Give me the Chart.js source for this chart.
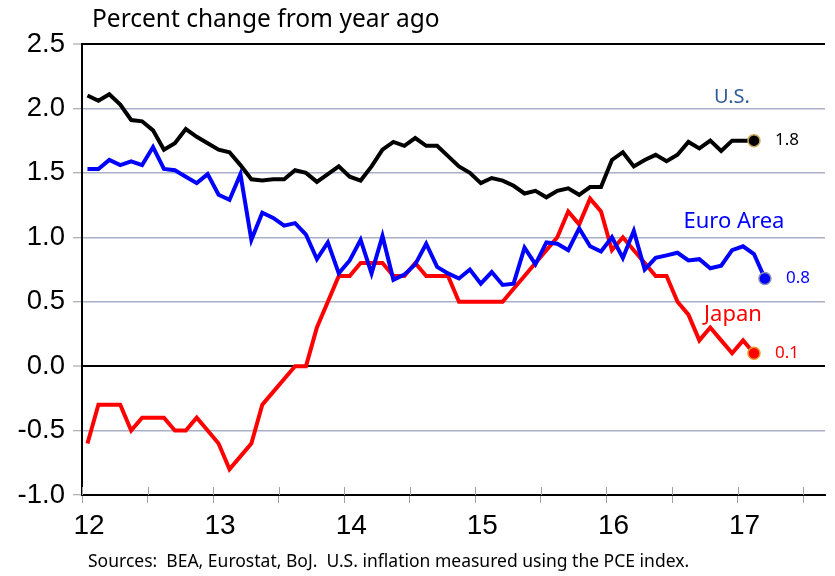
<!DOCTYPE html>
<html>
<head>
<meta charset="utf-8">
<script src="https://cdn.jsdelivr.net/npm/chart.js@4/dist/chart.umd.min.js"></script>
<style>
  html, body { margin: 0; padding: 0; background: #fff; }
  #wrap { width: 835px; height: 576px; position: relative; }
</style>
</head>
<body>
<div id="wrap"><canvas id="c" width="835" height="576"></canvas></div>
<script>
// ---- Data ----
const months = [
  '2012-01','2012-02','2012-03','2012-04','2012-05','2012-06','2012-07','2012-08','2012-09','2012-10','2012-11','2012-12',
  '2013-01','2013-02','2013-03','2013-04','2013-05','2013-06','2013-07','2013-08','2013-09','2013-10','2013-11','2013-12',
  '2014-01','2014-02','2014-03','2014-04','2014-05','2014-06','2014-07','2014-08','2014-09','2014-10','2014-11','2014-12',
  '2015-01','2015-02','2015-03','2015-04','2015-05','2015-06','2015-07','2015-08','2015-09','2015-10','2015-11','2015-12',
  '2016-01','2016-02','2016-03','2016-04','2016-05','2016-06','2016-07','2016-08','2016-09','2016-10','2016-11','2016-12',
  '2017-01','2017-02','2017-03'
];
const usValues = [
  2.10,2.06,2.11,2.03,1.91,1.90,1.83,1.68,1.73,1.84,1.78,1.73,
  1.68,1.66,1.56,1.45,1.44,1.45,1.45,1.52,1.50,1.43,1.49,1.55,
  1.47,1.44,1.55,1.68,1.74,1.71,1.77,1.71,1.71,1.63,1.55,1.50,
  1.42,1.46,1.44,1.40,1.34,1.36,1.31,1.36,1.38,1.33,1.39,1.39,
  1.60,1.66,1.55,1.60,1.64,1.59,1.64,1.74,1.69,1.75,1.67,1.75,
  1.75,1.75
];
const euroValues = [
  1.53,1.53,1.60,1.56,1.59,1.56,1.70,1.53,1.52,1.47,1.42,1.49,
  1.33,1.29,1.49,0.98,1.19,1.15,1.09,1.11,1.02,0.83,0.96,0.72,
  0.82,0.98,0.72,1.01,0.67,0.71,0.79,0.95,0.77,0.72,0.68,0.75,
  0.64,0.73,0.63,0.64,0.92,0.79,0.96,0.95,0.90,1.07,0.93,0.89,
  1.00,0.84,1.05,0.75,0.84,0.86,0.88,0.82,0.83,0.76,0.78,0.90,
  0.93,0.87,0.68
];
const japanValues = [
  -0.6,-0.3,-0.3,-0.3,-0.5,-0.4,-0.4,-0.4,-0.5,-0.5,-0.4,-0.5,
  -0.6,-0.8,-0.7,-0.6,-0.3,-0.2,-0.1,0.0,0.0,0.3,0.5,0.7,
  0.7,0.8,0.8,0.8,0.7,0.7,0.8,0.7,0.7,0.7,0.5,0.5,
  0.5,0.5,0.5,0.6,0.7,0.8,0.9,1.0,1.2,1.1,1.3,1.2,
  0.9,1.0,0.9,0.8,0.7,0.7,0.5,0.4,0.2,0.3,0.2,0.1,
  0.2,0.1
];
const seriesNames = ['U.S.', 'Euro Area', 'Japan'];
const endLabels = ['1.8', '0.8', '0.1'];
const yTicks = [-1.0, -0.5, 0.0, 0.5, 1.0, 1.5, 2.0, 2.5];
const xYearTicks = [12, 13, 14, 15, 16, 17];
const titleText = 'Percent change from year ago';
const sourceText = 'Sources:  BEA, Eurostat, BoJ.  U.S. inflation measured using the PCE index.';

// month string -> decimal year (mid-month), two-digit year like the axis
function monthPos(m) {
  const yy = parseInt(m.slice(2, 4), 10);
  const mm = parseInt(m.slice(5, 7), 10);
  return yy + (mm - 0.5) / 12;
}
function toPoints(vals) {
  return vals.map((v, i) => ({ x: monthPos(months[i]), y: v }));
}

const colors = ['#000000', '#0000ff', '#ff0000'];
const dotBorders = ['#c9a55e', '#8a8fb0', '#e59a2a'];
const nameColors = ['#2f5b98', '#0000ff', '#ff0000'];
const seriesData = [usValues, euroValues, japanValues];

const datasets = seriesData.map((vals, k) => ({
  label: seriesNames[k],
  data: toPoints(vals),
  borderColor: colors[k],
  backgroundColor: colors[k],
  borderWidth: 4,
  tension: 0,
  pointRadius: ctx => (ctx.dataIndex === vals.length - 1 ? 6 : 0),
  pointHoverRadius: 0,
  pointBackgroundColor: colors[k],
  pointBorderColor: dotBorders[k],
  pointBorderWidth: 1.5,
  clip: false
}));

const decor = {
  id: 'decor',
  afterDraw(chart) {
    const ctx = chart.ctx;
    const xs = chart.scales.x;
    const area = chart.chartArea;
    ctx.save();
    // inner part of x tick marks
    ctx.strokeStyle = '#a0a0a0';
    ctx.lineWidth = 1;
    xs.ticks.forEach(t => {
      const px = Math.round(xs.getPixelForValue(t.value)) + 0.5;
      ctx.beginPath();
      ctx.moveTo(px, area.bottom - 8);
      ctx.lineTo(px, area.bottom);
      ctx.stroke();
    });
    // title
    ctx.fillStyle = '#000';
    ctx.font = '24.5px "Noto Sans", "Open Sans", sans-serif';
    ctx.textAlign = 'left';
    ctx.textBaseline = 'middle';
    ctx.fillText(titleText, 92, 20);
    // sources
    ctx.font = '17.5px "Noto Sans", "Open Sans", sans-serif';
    ctx.fillText(sourceText, 88, 562);
    // series annotations, anchored at each series' last point
    const nameOffsets = [[-22, -43], [-31, -57], [-21, -39]];
    const nameFonts = ['20px', '22px', '22px'];
    chart.data.datasets.forEach((ds, k) => {
      const meta = chart.getDatasetMeta(k);
      const p = meta.data[meta.data.length - 1];
      ctx.textAlign = 'left';
      ctx.fillStyle = k === 0 ? '#000' : colors[k];
      ctx.font = '17px "Noto Sans", "Open Sans", sans-serif';
      ctx.fillText(endLabels[k], p.x + 21, p.y);
      ctx.textAlign = 'center';
      ctx.fillStyle = nameColors[k];
      ctx.font = nameFonts[k] + ' "Noto Sans", "Open Sans", sans-serif';
      ctx.fillText(seriesNames[k], p.x + nameOffsets[k][0], p.y + nameOffsets[k][1]);
    });
    ctx.restore();
  }
};

new Chart(document.getElementById('c'), {
  type: 'line',
  data: { datasets },
  plugins: [decor],
  options: {
    responsive: false,
    animation: false,
    events: [],
    layout: { padding: { top: 44, right: 10, left: 0, bottom: 0 } },
    plugins: { legend: { display: false }, tooltip: { enabled: false }, title: { display: false } },
    scales: {
      x: {
        type: 'linear',
        min: 12,
        max: 12 + 68 / 12,
        afterBuildTicks(scale) {
          const list = [];
          xYearTicks.forEach(y => { list.push({ value: y }); list.push({ value: y + 0.5 }); });
          scale.ticks = list;
        },
        afterFit(scale) { scale.height = 81; },
        border: { display: true, color: '#000', width: 2 },
        grid: { drawOnChartArea: false, drawTicks: true, tickLength: 8, tickColor: '#a0a0a0', tickWidth: 1 },
        ticks: {
          autoSkip: false,
          maxRotation: 0,
          padding: 6,
          labelOffset: 7,
          color: '#000',
          font: { family: '"Liberation Sans", Arial, sans-serif', size: 28 },
          callback: v => (xYearTicks.includes(v) ? String(v) : '')
        }
      },
      y: {
        min: -1.0,
        max: 2.5,
        afterBuildTicks(scale) { scale.ticks = yTicks.map(v => ({ value: v })); },
        afterFit(scale) { scale.width = 82; },
        border: { display: true, color: '#000', width: 2 },
        grid: {
          color: ctx => (ctx.tick && (ctx.tick.value === 0 || ctx.tick.value === 2.5) ? '#000' : '#a9b0c8'),
          lineWidth: ctx => (ctx.tick && (ctx.tick.value === 0 || ctx.tick.value === 2.5) ? 2 : 1.5),
          tickColor: '#9a9a9a',
          tickWidth: 1,
          tickLength: 9,
          drawTicks: true
        },
        ticks: {
          padding: 8,
          color: '#000',
          font: { family: '"Liberation Sans", Arial, sans-serif', size: 27.5 },
          callback: v => v.toFixed(1)
        }
      }
    }
  }
});
</script>
</body>
</html>
